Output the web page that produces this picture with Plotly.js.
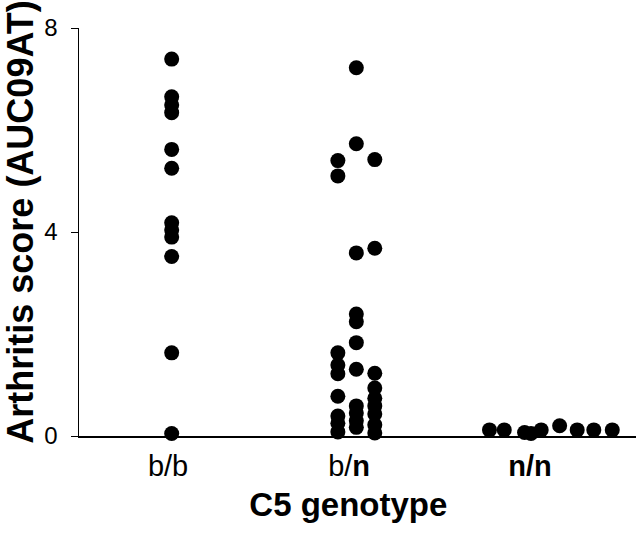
<!DOCTYPE html>
<html>
<head>
<meta charset="utf-8">
<script src="https://cdn.plot.ly/plotly-3.0.1.min.js"></script>
<style>html,body{margin:0;padding:0;background:#fff;}#chart{width:640px;height:539px;}</style>
</head>
<body>
<div id="chart"></div>
<script>
// Categories and tick labels
const categories = [1, 2, 3];
const tickLabels = ["b/b", "b/<b>n</b>", "<b>n/n</b>"];

// Arthritis scores (AUC09AT) per genotype, with dot-plot lane per point
const bbValues = [7.39, 6.65, 6.49, 6.34, 5.62, 5.25, 4.18, 4.04, 3.90, 3.52, 1.63, 0.05];
const bbLanes  = [0, 0, 0, 0, 0, 0, 0, 0, 0, 0, 0, 0];

const bnValues = [7.22, 5.73, 3.59, 2.39, 2.24, 1.83, 1.31, 0.59, 0.45, 0.30, 0.17,
                  5.40, 5.10, 1.63, 1.39, 1.22, 0.78, 0.39, 0.25, 0.08,
                  5.42, 3.68, 1.23, 0.94, 0.74, 0.59, 0.43, 0.22, 0.06];
const bnLanes  = [0, 0, 0, 0, 0, 0, 0, 0, 0, 0, 0,
                  -1, -1, -1, -1, -1, -1, -1, -1, -1,
                  1, 1, 1, 1, 1, 1, 1, 1, 1];

const nnValues = [0.12, 0.12, 0.07, 0.05, 0.12, 0.20, 0.12, 0.12, 0.12];
const nnLanes  = [-2.2, -1.4, -0.3, 0.05, 0.6, 1.6, 2.55, 3.45, 4.45];

const laneWidth = 0.102;
const groupShift = [0.02, 0.04, 0.0];

function xs(center, lanes, shift) {
  return lanes.map(l => center + shift + l * laneWidth);
}

const FONT = "Liberation Sans, Arial, Helvetica, sans-serif";
const marker = {color: "#000", size: 15, line: {width: 0}};
const traces = [
  {x: xs(categories[0], bbLanes, groupShift[0]), y: bbValues, type: "scatter", mode: "markers", marker: marker, cliponaxis: false},
  {x: xs(categories[1], bnLanes, groupShift[1]), y: bnValues, type: "scatter", mode: "markers", marker: marker, cliponaxis: false},
  {x: xs(categories[2], nnLanes, groupShift[2]), y: nnValues, type: "scatter", mode: "markers", marker: marker, cliponaxis: false}
];

const layout = {
  width: 640, height: 539,
  margin: {l: 79, r: 4, t: 28, b: 103},
  paper_bgcolor: "#fff", plot_bgcolor: "#fff",
  showlegend: false,
  font: {family: FONT, color: "#000"},
  xaxis: {
    range: [0.508, 3.585],
    tickmode: "array", tickvals: categories, ticktext: tickLabels,
    showgrid: false, zeroline: false, showline: true, linecolor: "#000", linewidth: 1.5,
    ticks: "", ticklabelstandoff: 4,
    tickfont: {size: 29, family: FONT, color: "#000"},
    title: {text: "<b>C5 genotype</b><span>\u00a0\u00a0</span>", font: {size: 33, family: FONT, color: "#000"}, standoff: 11},
    fixedrange: true
  },
  yaxis: {
    range: [0, 8],
    tickvals: [0, 4, 8], ticktext: ["0", "4", "8"],
    showgrid: false, zeroline: false, showline: true, linecolor: "#000", linewidth: 1.5,
    ticks: "outside", ticklen: 7, tickwidth: 1, tickcolor: "#000", ticklabelstandoff: 8,
    tickfont: {size: 24, family: FONT, color: "#000"},
    automargin: true,
    title: {text: "<span>\u00a0\u00a0</span><b>Arthritis score (AUC09AT)</b>", font: {size: 36, family: FONT, color: "#000"}, standoff: 10},
    fixedrange: true
  }
};

Plotly.newPlot("chart", traces, layout, {displayModeBar: false, staticPlot: true});
</script>
</body>
</html>
